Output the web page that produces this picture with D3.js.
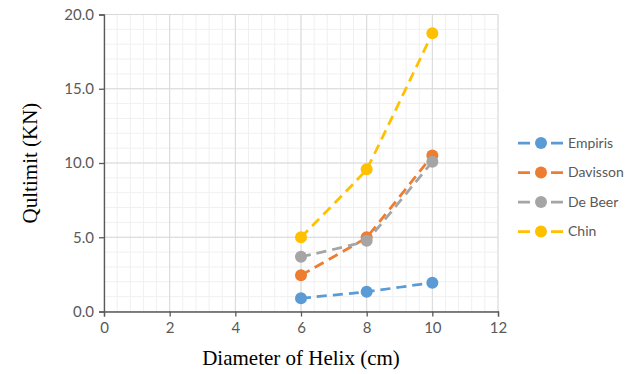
<!DOCTYPE html>
<html>
<head>
<meta charset="utf-8">
<script src="https://cdnjs.cloudflare.com/ajax/libs/d3/7.8.5/d3.min.js"></script>
<style>
  body { margin: 0; background: #fff; }
</style>
</head>
<body>
<div id="chart"></div>
<script>
const diameters = [6, 8, 10];
const seriesNames = ["Empiris", "Davisson", "De Beer", "Chin"];
const empiris = [0.89, 1.33, 1.94];
const davisson = [2.44, 5.0, 10.5];
const deBeer = [3.69, 4.77, 10.09];
const chin = [5.0, 9.58, 18.73];
const colors = ["#5B9BD5", "#ED7D31", "#A5A5A5", "#FFC000"];
const xTicks = [0, 2, 4, 6, 8, 10, 12];
const yTicks = [0, 5, 10, 15, 20];

const seriesValues = [empiris, davisson, deBeer, chin];

const width = 626, height = 374;
const margin = { left: 104, right: 128, top: 14.5, bottom: 62.5 };
const labelFont = "Lato, 'Liberation Sans', sans-serif";

const svg = d3.select("#chart").append("svg")
  .attr("width", width)
  .attr("height", height);

const x = d3.scaleLinear().domain([0, 12]).range([margin.left, width - margin.right]);
const y = d3.scaleLinear().domain([0, 20]).range([height - margin.bottom, margin.top]);

// minor grid
const g = svg.append("g");
g.selectAll("line.minorX")
  .data(d3.range(0, 12.01, 0.4))
  .join("line")
  .attr("x1", d => x(d)).attr("x2", d => x(d))
  .attr("y1", y(0)).attr("y2", y(20))
  .attr("stroke", "#f0f0f0").attr("stroke-width", 1);
g.selectAll("line.minorY")
  .data(d3.range(0, 20.01, 1))
  .join("line")
  .attr("x1", x(0)).attr("x2", x(12))
  .attr("y1", d => y(d)).attr("y2", d => y(d))
  .attr("stroke", "#f0f0f0").attr("stroke-width", 1);

// major grid
g.selectAll("line.majorX")
  .data(xTicks)
  .join("line")
  .attr("x1", d => x(d)).attr("x2", d => x(d))
  .attr("y1", y(0)).attr("y2", y(20))
  .attr("stroke", "#d9d9d9").attr("stroke-width", 1);
g.selectAll("line.majorY")
  .data(yTicks)
  .join("line")
  .attr("x1", x(0)).attr("x2", x(12))
  .attr("y1", d => y(d)).attr("y2", d => y(d))
  .attr("stroke", "#d9d9d9").attr("stroke-width", 1);

// axes
const xAxis = svg.append("g")
  .attr("transform", `translate(0,${y(0)})`)
  .call(d3.axisBottom(x).tickValues(xTicks).tickSize(5).tickPadding(6).tickFormat(d3.format("d")));
const yAxis = svg.append("g")
  .attr("transform", `translate(${x(0)},0)`)
  .call(d3.axisLeft(y).tickValues(yTicks).tickSize(5).tickPadding(5).tickFormat(d3.format(".1f")));

[xAxis, yAxis].forEach(a => {
  a.select(".domain").attr("stroke", "#595959").attr("stroke-width", 1.3);
  a.selectAll(".tick line").attr("stroke", "#595959").attr("stroke-width", 1.3);
  a.selectAll(".tick text")
    .attr("fill", "#595959")
    .style("font-family", labelFont)
    .style("font-size", "15px");
});

// series lines
const line = d3.line()
  .x((d, i) => x(diameters[i]))
  .y(d => y(d))
  .curve(d3.curveCardinal.tension(0.85));

seriesValues.forEach((vals, si) => {
  svg.append("path")
    .datum(vals)
    .attr("d", line)
    .attr("fill", "none")
    .attr("stroke", colors[si])
    .attr("stroke-width", 2.75)
    .attr("stroke-dasharray", "10,6");
  svg.selectAll(null)
    .data(vals)
    .join("circle")
    .attr("cx", (d, i) => x(diameters[i]))
    .attr("cy", d => y(d))
    .attr("r", 6)
    .attr("fill", colors[si]);
});

// legend
const legend = svg.append("g").attr("transform", "translate(518,143)");
seriesNames.forEach((name, i) => {
  const row = legend.append("g").attr("transform", `translate(0,${i * 29.5})`);
  row.append("line")
    .attr("x1", 0).attr("x2", 45)
    .attr("stroke", colors[i]).attr("stroke-width", 2.75)
    .attr("stroke-dasharray", "12,21")
    .attr("y1", 0).attr("y2", 0);
  row.append("circle").attr("cx", 23).attr("cy", 0).attr("r", 6).attr("fill", colors[i]);
  row.append("text")
    .attr("x", 50).attr("y", 0).attr("dy", "0.35em")
    .attr("fill", "#595959")
    .style("font-family", labelFont)
    .style("font-size", "14px")
    .text(name);
});

// axis titles
svg.append("text")
  .attr("x", (x(0) + x(12)) / 2).attr("y", 365)
  .attr("text-anchor", "middle")
  .attr("fill", "#000")
  .style("font-family", "'Liberation Serif', 'DejaVu Serif', serif")
  .style("font-size", "21px")
  .text("Diameter of Helix (cm)");

svg.append("text")
  .attr("transform", `translate(37,${(y(0) + y(20)) / 2}) rotate(-90)`)
  .attr("text-anchor", "middle")
  .attr("fill", "#000")
  .style("font-family", "'Liberation Serif', 'DejaVu Serif', serif")
  .style("font-size", "21px")
  .text("Qultimit (KN)");
</script>
</body>
</html>
